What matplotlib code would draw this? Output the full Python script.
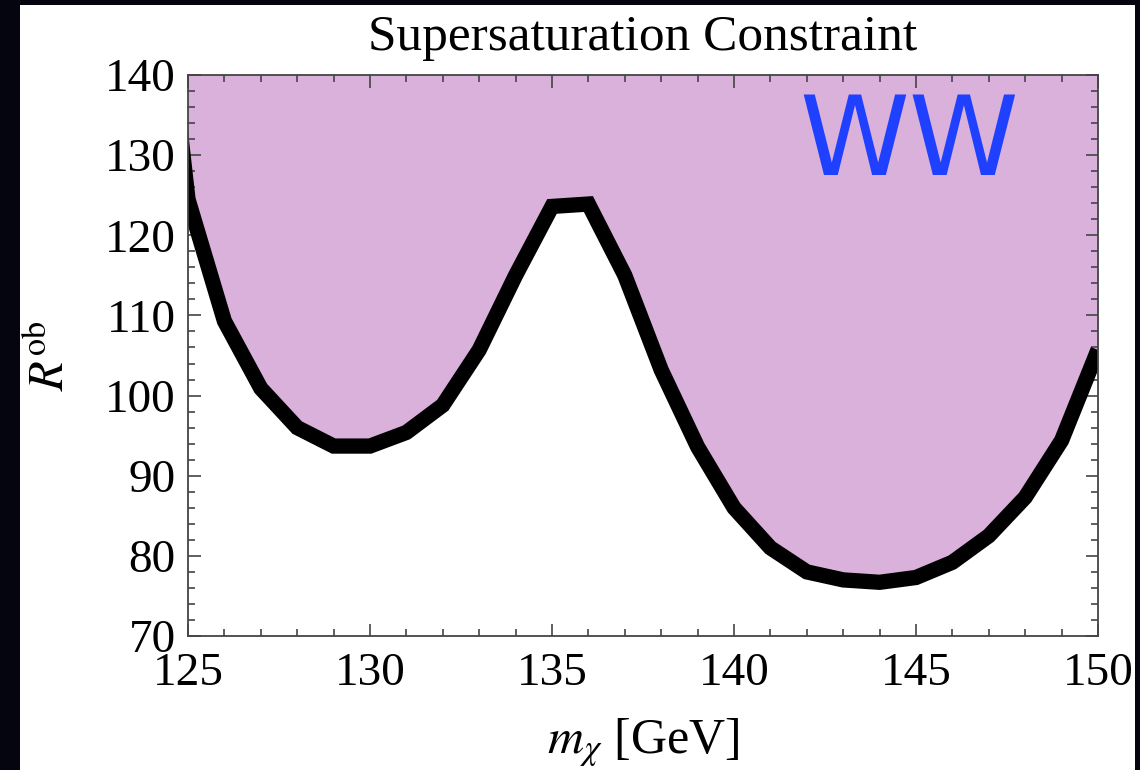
import numpy as np
import matplotlib
matplotlib.use("Agg")
import matplotlib.pyplot as plt
from matplotlib.patches import Rectangle
from matplotlib.ticker import MultipleLocator

# =========================
# Data
# =========================
m_chi = [124, 125, 126, 127, 128, 129, 130, 131, 132, 133, 134, 135, 136,
         137, 138, 139, 140, 141, 142, 143, 144, 145, 146, 147, 148, 149, 150]
r_ob = [165.0, 124.5, 109.3, 100.9, 96.0, 93.7, 93.7, 95.4, 98.8, 105.7,
        115.0, 123.6, 123.9, 115.0, 103.2, 93.6, 86.0, 81.0, 78.0, 77.0,
        76.7, 77.3, 79.2, 82.5, 87.3, 94.4, 105.7]

title = "Supersaturation Constraint"
channel = "WW"

# =========================
# Style
# =========================
plt.rcParams["font.family"] = ["Liberation Serif", "DejaVu Serif"]
plt.rcParams["mathtext.fontset"] = "stix"

FILL = "#d9b1da"
BLUE = "#2040ff"
TICK = "#444444"

fig = plt.figure(figsize=(11.4, 7.7), dpi=100, facecolor="#050510")
# white slide panel behind the axes
fig.add_artist(Rectangle((20 / 1140, 0), 1115 / 1140, 1 - 5 / 770,
                         transform=fig.transFigure, facecolor="white",
                         edgecolor="none", zorder=-10))

ax = fig.add_axes([188 / 1140, 1 - 636 / 770, 910 / 1140, 561 / 770])
ax.set_zorder(1)
ax.set_facecolor("white")

ax.fill_between(m_chi, r_ob, 170, color=FILL, linewidth=0, zorder=1)
ax.plot(m_chi, r_ob, color="black", linewidth=11, solid_joinstyle="miter",
        solid_capstyle="butt", zorder=2)

ax.set_xlim(125, 150)
ax.set_ylim(70, 140)
ax.xaxis.set_major_locator(MultipleLocator(5))
ax.xaxis.set_minor_locator(MultipleLocator(1))
ax.yaxis.set_major_locator(MultipleLocator(10))
ax.yaxis.set_minor_locator(MultipleLocator(2))

ax.tick_params(which="both", direction="in", top=True, right=True,
               color=TICK, width=1.2, labelsize=34)
ax.tick_params(which="major", length=9)
ax.tick_params(which="minor", length=5)
ax.tick_params(axis="x", pad=12)
ax.tick_params(axis="y", pad=9)
for s in ax.spines.values():
    s.set_color(TICK)
    s.set_linewidth(1.3)
    s.set_zorder(3)

ax.set_title(title, fontsize=37, pad=18)
ax.set_xlabel(r"$m_{\chi}$ [GeV]", fontsize=36, labelpad=15)
ax.set_ylabel(r"$R^{\mathrm{ob}}$", fontsize=35, labelpad=22)

ax.text(0.792, 0.877, channel, transform=ax.transAxes, color=BLUE,
        fontsize=80, family="DejaVu Sans", ha="center", va="center", zorder=4)

plt.savefig("out.png", dpi=100, facecolor=fig.get_facecolor())
